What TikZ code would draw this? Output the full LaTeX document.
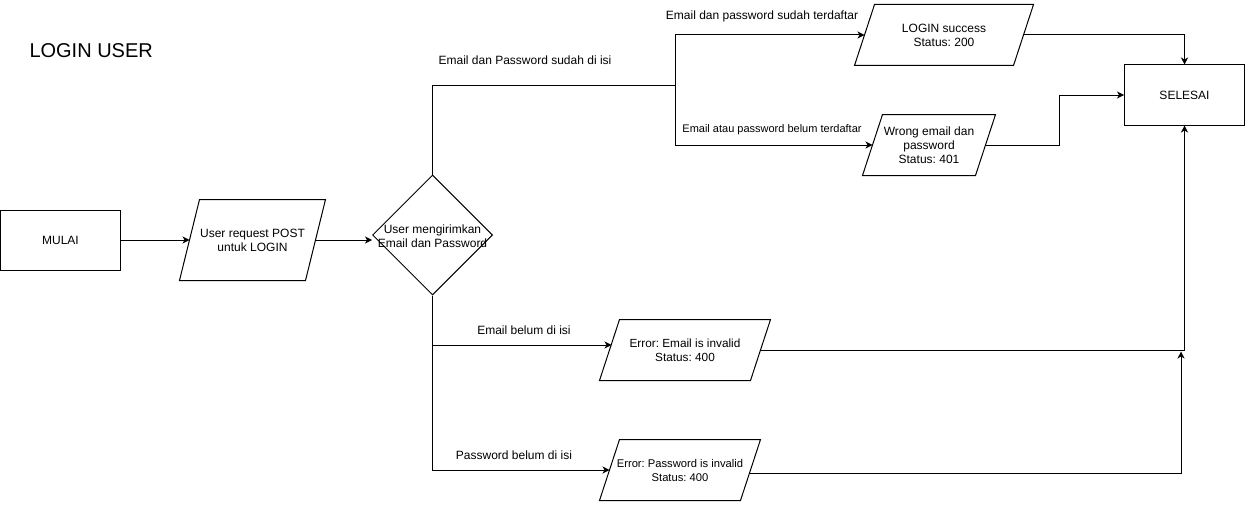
\documentclass[tikz,border=0pt]{standalone}
\usepackage{fontspec}
\setmainfont{Liberation Sans}
\usetikzlibrary{shapes.geometric,arrows.meta}
\frenchspacing
\begin{document}
\begin{tikzpicture}[x=1pt,y=-1pt,line width=1pt,
  >={Stealth[length=7pt,width=7pt,inset=2pt]},
  fs/.style={font=\fontsize{#1}{14}\selectfont},
  box/.style={draw,minimum width=120pt,minimum height=60pt,inner sep=0pt,fs=12},
  pbox/.style={inner sep=0pt,align=center,minimum height=60pt},
  lbl/.style={inner sep=0pt,fs=12},
  conn/.style={->}]
\useasboundingbox (0,0) rectangle (1245,511);

\node[anchor=west,inner sep=0pt,font=\fontsize{20}{22}\selectfont] (title) at (29,51) {LOGIN USER};

\node[box] (mulai) at (60.5,240) {MULAI};
\node[pbox,fs=12,minimum width=145pt,minimum height=80pt] (req) at (252.5,240) {User request POST\\untuk LOGIN};
\node[diamond,draw,minimum width=120pt,minimum height=120pt,inner sep=0pt] (dec) at (432.5,235) {};
\node[inner sep=0pt,align=center,fs=12] (dectxt) at (432.5,236) {User mengirimkan\\Email dan Password};

\node[pbox,fs=12,minimum width=178pt] (ok) at (944,35) {LOGIN success\\Status: 200};
\node[pbox,fs=12,minimum width=132pt] (wrong) at (929,145) {Wrong email dan\\password\\Status: 401};
\node[box] (selesai) at (1184.5,95) {SELESAI};
\node[pbox,fs=11.8,minimum width=170pt] (erre) at (685,350) {Error: Email is invalid\\Status: 400};
\node[pbox,fs=11.2,minimum width=160pt] (errp) at (680,470) {Error: Password is invalid\\Status: 400};

\foreach \n in {req,ok,wrong,erre,errp}
  \draw ([xshift=20pt]\n.north west) -- (\n.north east) -- ([xshift=-20pt]\n.south east) -- (\n.south west) -- cycle;

% labels
\node[lbl] (l1) at (525,60) {Email dan Password sudah di isi};
\node[lbl] (l2) at (762,16) {Email dan password sudah terdaftar};
\node[inner sep=0pt,fs=11] (l3) at (772,130) {Email atau password belum terdaftar};
\node[lbl] (l4) at (524,330) {Email belum di isi};
\node[lbl] (l5) at (514,455) {Password belum di isi};

% junction coordinates
\coordinate (jtop) at (675,85.5);
\coordinate (jbot) at (432.5,345);
\coordinate (ein) at (611.5,345);
\coordinate (pout) at (750,473.5);
\coordinate (pturn) at (1181,473.5);
\coordinate (pend) at (1181,351.5);

% connectors
\draw[conn] (mulai.east) -- ([xshift=10pt]req.west);
\draw[conn] ([xshift=-10pt]req.east) -- (dec.west |- req.east);
\draw (dec.north) |- (jtop);
\draw[conn] (jtop) |- ([xshift=10pt]ok.west);
\draw[conn] (jtop) |- ([xshift=10pt]wrong.west);
\draw[conn] ([xshift=-10pt]ok.east) -| (selesai.north);
\draw[conn] ([xshift=-10pt]wrong.east) -- (1059,145) |- (selesai.west);
\draw[conn] (dec.south) |- ([xshift=10pt]errp.west);
\draw[conn] (jbot) -- (ein);
\draw[conn] ([xshift=-10pt]erre.east) -| (selesai.south);
\draw[conn] (pout) -- (pturn) -- (pend);
\end{tikzpicture}
\end{document}
